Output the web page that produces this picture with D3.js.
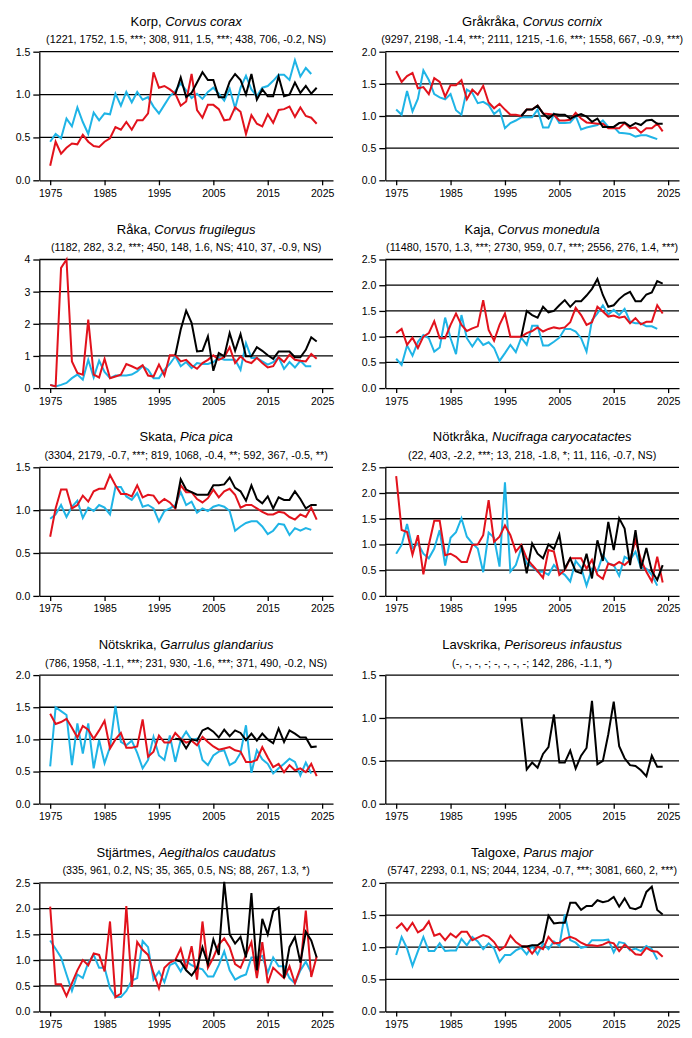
<!DOCTYPE html>
<html>
<head>
<meta charset="utf-8">
<script src="https://cdn.jsdelivr.net/npm/d3@7"></script>
<style>
  body { margin: 0; background: #fff; }
  svg { display: block; }
  text { font-family: "Liberation Sans", Arial, sans-serif; fill: #000; }
</style>
</head>
<body>
<div id="chart"></div>
<script>
// years: cyan 1975-2023, red 1975-2024, black 1998-2024
var years = [1975,1976,1977,1978,1979,1980,1981,1982,1983,1984,1985,1986,1987,1988,1989,1990,1991,1992,1993,1994,
             1995,1996,1997,1998,1999,2000,2001,2002,2003,2004,2005,2006,2007,2008,2009,2010,2011,2012,2013,2014,
             2015,2016,2017,2018,2019,2020,2021,2022,2023,2024];
var blackStart = 1998;
var xTicks = [1975, 1985, 1995, 2005, 2015, 2025];

var korpCyan = [0.45,0.54,0.49,0.72,0.63,0.85,0.68,0.54,0.79,0.70,0.78,0.77,1.01,0.87,1.03,0.91,1.03,0.94,0.97,0.86,
  0.78,0.88,0.98,1.04,1.13,1.05,0.96,1.01,0.95,1.03,1.08,1.01,0.93,1.07,0.84,1.08,1.22,1.06,0.98,1.08,
  1.10,1.16,1.23,1.23,1.17,1.40,1.21,1.31,1.24];
var korpRed = [0.17,0.45,0.31,0.38,0.43,0.42,0.53,0.45,0.40,0.39,0.45,0.49,0.62,0.59,0.68,0.59,0.70,0.70,0.78,1.26,
  1.08,1.10,1.06,1.01,0.87,0.92,1.24,0.82,0.73,0.88,0.88,0.83,0.70,0.71,0.85,0.80,0.54,0.76,0.66,0.63,
  0.77,0.67,0.82,0.83,0.86,0.74,0.85,0.75,0.73,0.66];
var korpBlack = [1.00,1.20,0.97,1.02,1.14,1.26,1.17,1.17,0.97,0.97,1.15,1.24,1.17,1.00,1.24,0.94,1.06,0.98,0.98,1.21,
  0.98,1.00,1.14,1.02,1.10,1.01,1.08];

var grakrakaCyan = [1.10,1.02,1.39,1.07,1.27,1.71,1.56,1.34,1.29,1.26,1.34,1.09,1.02,1.41,1.36,1.20,1.22,1.17,1.03,1.10,
  0.81,0.89,0.93,0.98,0.98,0.98,1.10,0.82,0.82,1.03,0.89,0.89,0.90,1.00,0.79,0.82,0.84,0.86,0.93,0.83,
  0.83,0.74,0.73,0.72,0.68,0.70,0.70,0.67,0.64];
var grakrakaRed = [1.70,1.53,1.62,1.67,1.43,1.45,1.34,1.59,1.53,1.30,1.48,1.48,1.56,1.26,1.41,1.33,1.47,1.21,1.12,1.19,
  1.10,1.02,1.02,1.00,1.10,1.10,1.16,1.04,1.03,1.02,0.93,0.93,0.94,1.05,0.96,0.90,0.89,0.88,0.88,0.81,
  0.81,0.81,0.89,0.81,0.82,0.74,0.81,0.81,0.88,0.76];
var grakrakaBlack = [1.00,1.10,1.10,1.16,1.04,0.96,1.03,1.02,1.02,0.96,1.00,1.03,0.99,0.91,0.96,0.83,0.83,0.83,0.89,0.90,
  0.84,0.89,0.86,0.93,0.94,0.88,0.88];

var rakaCyan = [0.10,0.05,0.10,0.16,0.31,0.42,0.26,0.88,0.33,0.85,0.50,0.31,0.39,0.39,0.39,0.42,0.52,0.68,0.57,0.31,
  0.31,0.57,0.75,0.99,0.68,0.81,0.62,0.78,0.75,0.75,0.81,0.94,0.88,0.88,0.88,0.57,1.40,0.94,0.94,0.83,
  0.73,0.81,0.96,0.60,0.81,0.64,0.85,0.68,0.68];
var rakaRed = [0.10,0.05,3.74,4.00,0.83,0.47,0.42,2.13,0.42,0.33,0.91,0.31,0.36,0.42,0.75,0.68,0.60,0.71,0.39,0.36,
  0.73,0.39,1.02,1.02,0.83,0.88,0.71,0.60,0.78,0.88,1.02,0.88,0.96,1.27,0.78,0.99,0.83,0.78,0.94,0.78,
  0.64,0.68,0.96,0.81,1.04,0.88,0.85,0.83,1.06,0.91];
var rakaBlack = [1.02,1.82,2.41,2.03,1.14,1.16,1.61,0.54,1.09,0.99,1.71,1.16,1.68,0.99,0.99,1.27,1.16,1.02,0.91,1.14,
  1.14,1.14,0.96,0.96,1.19,1.58,1.45];

var kajaCyan = [0.57,0.45,0.83,0.63,0.90,1.03,0.97,0.71,0.79,1.37,0.97,0.66,1.42,0.97,0.81,0.97,0.84,0.89,0.78,0.53,
  0.68,0.84,0.70,0.98,0.84,1.21,1.21,0.83,0.83,0.90,0.98,1.15,1.15,1.10,0.97,0.71,1.32,1.45,1.61,1.43,
  1.52,1.42,1.54,1.29,1.26,1.26,1.20,1.20,1.15];
var kajaRed = [1.07,1.15,0.84,0.98,0.78,1.00,1.07,1.30,0.97,0.97,1.23,1.45,1.23,1.11,1.16,1.20,1.71,1.13,0.92,1.23,
  1.45,1.00,1.00,1.00,1.07,1.11,1.18,1.10,1.15,1.18,1.16,1.18,1.28,1.56,1.42,1.23,1.28,1.58,1.49,1.39,
  1.41,1.37,1.39,1.26,1.36,1.24,1.29,1.29,1.61,1.45];
var kajaBlack = [1.00,1.50,1.42,1.37,1.58,1.47,1.50,1.61,1.71,1.58,1.69,1.69,1.80,1.93,2.12,1.81,1.58,1.61,1.73,1.82,
  1.87,1.69,1.69,1.82,1.86,2.08,2.03];

var skataCyan = [0.90,0.95,1.06,0.92,1.04,1.11,0.91,1.03,0.99,1.06,1.03,0.95,1.27,1.27,1.16,1.12,1.20,1.04,1.06,1.02,
  0.87,0.99,1.02,1.06,1.21,1.06,1.10,0.97,1.02,0.99,1.04,1.06,1.04,0.99,0.76,0.81,0.85,0.87,0.87,0.81,
  0.72,0.76,0.84,0.83,0.71,0.79,0.76,0.79,0.77];
var skataRed = [0.69,1.02,1.24,1.24,1.02,1.06,1.17,1.10,1.22,1.25,1.25,1.41,1.29,1.19,1.19,1.16,1.29,1.15,1.18,1.17,
  1.08,1.13,1.09,1.02,1.29,1.21,1.21,1.13,1.09,1.14,1.24,1.15,1.22,1.25,1.18,1.03,1.06,1.06,1.02,0.98,
  0.95,0.95,0.98,0.97,0.92,0.89,0.95,0.92,1.03,0.89];
var skataBlack = [1.02,1.36,1.24,1.21,1.18,1.18,1.18,1.29,1.29,1.30,1.38,1.26,1.22,1.11,1.29,1.13,1.08,1.16,1.02,1.15,
  1.12,1.12,1.22,1.13,1.02,1.06,1.06];

var notkrakaCyan = [0.82,0.99,1.40,0.93,1.02,0.82,0.73,0.92,1.28,0.59,1.13,1.24,1.51,1.15,1.02,0.92,0.46,1.23,1.13,0.57,
  2.21,0.47,0.60,0.93,0.63,0.57,0.47,0.47,0.41,0.60,0.48,0.41,0.28,0.68,0.55,0.20,0.53,0.48,0.79,0.63,
  0.60,0.39,0.76,0.70,0.86,0.55,0.53,0.41,0.20];
var notkrakaRed = [2.33,1.28,1.24,0.80,1.18,0.42,0.99,1.46,1.46,0.79,0.82,0.76,0.66,0.66,0.99,1.00,1.18,1.86,1.05,1.15,
  1.37,1.18,0.86,0.99,0.73,0.60,0.48,0.35,0.89,0.86,0.41,0.50,0.73,0.73,0.73,0.53,0.70,0.41,0.33,0.63,
  0.59,0.66,0.60,0.70,1.08,0.70,0.47,0.28,0.76,0.26];
var notkrakaBlack = [0.99,0.44,1.02,0.82,0.73,1.00,0.91,1.19,0.53,0.73,0.48,0.44,0.82,0.34,1.08,0.68,1.44,0.89,1.51,1.31,
  0.60,1.28,0.53,0.93,0.48,0.31,0.60];

var notskrikaCyan = [0.58,1.50,1.44,1.38,0.60,1.25,0.78,1.25,0.55,0.99,0.63,0.88,1.52,0.96,0.91,0.98,0.79,0.55,0.68,1.04,
  0.75,0.68,1.06,0.65,0.99,1.12,0.99,1.01,0.68,0.60,0.75,0.81,0.83,0.60,0.65,0.79,1.22,0.48,0.83,0.69,
  0.62,0.47,0.55,0.62,0.70,0.65,0.44,0.64,0.47];
var notskrikaRed = [1.40,1.24,1.27,1.32,1.18,1.03,1.21,1.15,1.01,1.14,1.29,0.86,1.00,1.10,0.87,0.87,0.89,1.31,0.73,0.81,
  1.06,0.95,0.95,1.10,1.01,0.95,0.98,0.91,1.04,0.96,0.89,0.84,0.86,0.88,0.83,0.81,0.65,0.65,0.68,0.88,
  0.72,0.57,0.62,0.49,0.60,0.52,0.55,0.49,0.62,0.43];
var notskrikaBlack = [1.01,1.00,0.86,1.00,0.98,1.14,1.18,1.12,1.03,1.15,1.05,1.14,1.10,0.99,1.09,0.98,1.09,1.00,0.94,1.17,
  0.96,1.14,1.09,1.03,1.03,0.88,0.89];

var lavskrikaBlack = [1.00,0.40,0.48,0.42,0.58,0.66,1.04,0.48,0.48,0.62,0.41,0.56,0.65,1.20,0.46,0.50,0.81,1.19,0.67,0.53,
  0.45,0.44,0.39,0.32,0.56,0.43,0.43];

var stjartmesCyan = [1.38,1.22,1.05,0.72,0.40,0.72,0.65,0.95,1.10,0.85,0.85,0.45,0.28,0.28,0.40,0.60,0.65,1.37,1.25,0.62,
  0.78,0.57,0.90,0.95,0.78,0.98,0.90,0.85,0.82,0.68,0.68,0.90,1.17,0.80,0.62,0.68,0.72,1.05,1.05,1.08,
  0.75,1.05,0.88,0.88,0.65,0.55,0.80,0.97,0.75];
var stjartmesRed = [2.04,0.53,0.53,0.30,0.55,0.80,1.00,0.90,1.13,1.10,0.78,1.75,0.28,0.35,2.05,0.48,1.35,1.20,1.10,0.75,
  0.45,0.85,0.95,1.00,1.22,0.82,1.27,0.62,1.75,0.85,1.05,1.30,1.42,1.25,0.92,0.85,1.10,1.35,0.65,1.35,
  0.55,0.85,0.75,0.65,0.88,0.55,0.85,1.96,0.67,1.07];
var stjartmesBlack = [1.00,0.97,0.80,0.70,0.85,1.25,0.92,1.40,1.10,2.52,1.50,1.32,1.45,1.05,2.30,0.80,1.80,1.50,1.95,2.02,
  0.65,1.25,1.45,0.95,1.55,1.38,1.05];

var talgoxeCyan = [0.88,1.16,0.98,0.71,0.94,1.16,0.94,0.94,1.06,0.94,0.95,0.95,1.13,1.03,1.16,1.09,0.97,1.06,0.98,0.77,
  0.88,0.88,0.95,0.99,0.89,1.02,0.89,1.06,0.97,1.09,1.02,1.51,1.11,1.07,0.99,1.01,1.11,1.11,1.11,1.12,
  0.92,1.08,1.06,0.95,0.98,0.94,1.02,0.97,0.81];
var talgoxeRed = [1.29,1.37,1.26,1.38,1.23,1.28,1.40,1.18,1.21,1.11,1.21,1.15,1.24,1.24,1.11,1.15,1.19,1.16,1.08,0.95,
  1.01,1.18,1.08,1.02,1.01,0.90,1.01,0.97,1.16,1.06,1.07,1.13,1.16,1.13,1.07,1.03,1.03,1.02,1.04,1.08,
  1.06,0.94,1.04,0.97,0.89,0.88,0.99,0.94,0.93,0.85];
var talgoxeBlack = [1.01,1.01,1.03,1.03,1.09,1.49,1.37,1.38,1.38,1.69,1.69,1.58,1.64,1.64,1.73,1.70,1.72,1.78,1.63,1.76,
  1.61,1.59,1.63,1.86,1.94,1.58,1.51];

var names = ["Korp", "Gråkråka", "Råka", "Kaja", "Skata", "Nötkråka", "Nötskrika", "Lavskrika", "Stjärtmes", "Talgoxe"];
var latin = ["Corvus corax", "Corvus cornix", "Corvus frugilegus", "Corvus monedula", "Pica pica",
  "Nucifraga caryocatactes", "Garrulus glandarius", "Perisoreus infaustus", "Aegithalos caudatus", "Parus major"];
var stats = [
  "(1221, 1752, 1.5, ***; 308, 911, 1.5, ***; 438, 706, -0.2, NS)",
  "(9297, 2198, -1.4, ***; 2111, 1215, -1.6, ***; 1558, 667, -0.9, ***)",
  "(1182, 282, 3.2, ***; 450, 148, 1.6, NS; 410, 37, -0.9, NS)",
  "(11480, 1570, 1.3, ***; 2730, 959, 0.7, ***; 2556, 276, 1.4, ***)",
  "(3304, 2179, -0.7, ***; 819, 1068, -0.4, **; 592, 367, -0.5, **)",
  "(22, 403, -2.2, ***; 13, 218, -1.8, *; 11, 116, -0.7, NS)",
  "(786, 1958, -1.1, ***; 231, 930, -1.6, ***; 371, 490, -0.2, NS)",
  "(-, -, -, -; -, -, -, -; 142, 286, -1.1, *)",
  "(335, 961, 0.2, NS; 35, 365, 0.5, NS; 88, 267, 1.3, *)",
  "(5747, 2293, 0.1, NS; 2044, 1234, -0.7, ***; 3081, 660, 2, ***)"
];
var yTicks = [
  [0, 0.5, 1, 1.5], [0, 0.5, 1, 1.5, 2], [0, 1, 2, 3, 4], [0, 0.5, 1, 1.5, 2, 2.5], [0, 0.5, 1, 1.5],
  [0, 0.5, 1, 1.5, 2, 2.5], [0, 0.5, 1, 1.5, 2], [0, 0.5, 1, 1.5], [0, 0.5, 1, 1.5, 2, 2.5], [0, 0.5, 1, 1.5, 2]
];
var cyanData = [korpCyan, grakrakaCyan, rakaCyan, kajaCyan, skataCyan, notkrakaCyan, notskrikaCyan, null, stjartmesCyan, talgoxeCyan];
var redData = [korpRed, grakrakaRed, rakaRed, kajaRed, skataRed, notkrakaRed, notskrikaRed, null, stjartmesRed, talgoxeRed];
var blackData = [korpBlack, grakrakaBlack, rakaBlack, kajaBlack, skataBlack, notkrakaBlack, notskrikaBlack, lavskrikaBlack, stjartmesBlack, talgoxeBlack];

var width = 692, height = 1038;
var colX = [0, 346];
var rowTop0 = 51.7, rowStep = 207.8, plotH = 128.6;
var left = 39.3, right = 333;

var svg = d3.select("#chart").append("svg")
    .attr("width", width)
    .attr("height", height);

var x = d3.scaleLinear().domain([1973, 2027]).range([left, right]);

names.forEach(function(name, i) {
    var col = i % 2, row = Math.floor(i / 2);
    var ticks = yTicks[i];
    var yMax = ticks[ticks.length - 1];
    var y = d3.scaleLinear().domain([0, yMax]).range([plotH, 0]);
    var fmt = yMax === 4 ? d3.format("d") : d3.format(".1f");

    var g = svg.append("g")
        .attr("transform", "translate(" + colX[col] + "," + (rowTop0 + row * rowStep) + ")");

    var title = g.append("text")
        .attr("x", (left + right) / 2)
        .attr("y", -26)
        .attr("text-anchor", "middle")
        .style("font-size", "13px");
    title.append("tspan").text(name + ", ");
    title.append("tspan").style("font-style", "italic").text(latin[i]);

    g.append("text")
        .attr("x", (left + right) / 2)
        .attr("y", -8.5)
        .attr("text-anchor", "middle")
        .style("font-size", "10.75px")
        .text(stats[i]);

    // gridlines
    g.selectAll(".grid")
        .data(ticks.filter(function(d) { return d > 0; }))
        .enter().append("line")
        .attr("x1", left).attr("x2", right)
        .attr("y1", function(d) { return y(d); })
        .attr("y2", function(d) { return y(d); })
        .attr("stroke", "#000")
        .attr("stroke-width", 1.3);

    var yAxis = g.append("g")
        .attr("transform", "translate(" + left + ",0)")
        .call(d3.axisLeft(y).tickValues(ticks).tickFormat(fmt).tickSize(6).tickSizeOuter(0).tickPadding(3));

    var xAxis = g.append("g")
        .attr("transform", "translate(0," + plotH + ")")
        .call(d3.axisBottom(x).tickValues(xTicks).tickFormat(d3.format("d")).tickSize(5).tickSizeOuter(0).tickPadding(4));

    [yAxis, xAxis].forEach(function(a) {
        a.select(".domain").attr("stroke-width", 1.3);
        a.selectAll(".tick line").attr("stroke-width", 1.3);
        a.selectAll("text").style("font-size", "10.5px").attr("fill", "#000");
    });

    var line = d3.line()
        .x(function(d) { return x(d.year); })
        .y(function(d) { return y(d.value); });

    var series = [
        { data: cyanData[i], start: 1975, color: "#1fb4e6" },
        { data: redData[i], start: 1975, color: "#e2121c" },
        { data: blackData[i], start: blackStart, color: "#000" }
    ];
    series.forEach(function(s) {
        if (!s.data) return;
        var pts = s.data.map(function(v, k) {
            return { year: years[years.indexOf(s.start) + k], value: v };
        });
        g.append("path")
            .datum(pts)
            .attr("fill", "none")
            .attr("stroke", s.color)
            .attr("stroke-width", 2)
            .attr("d", line);
    });
});
</script>
</body>
</html>
